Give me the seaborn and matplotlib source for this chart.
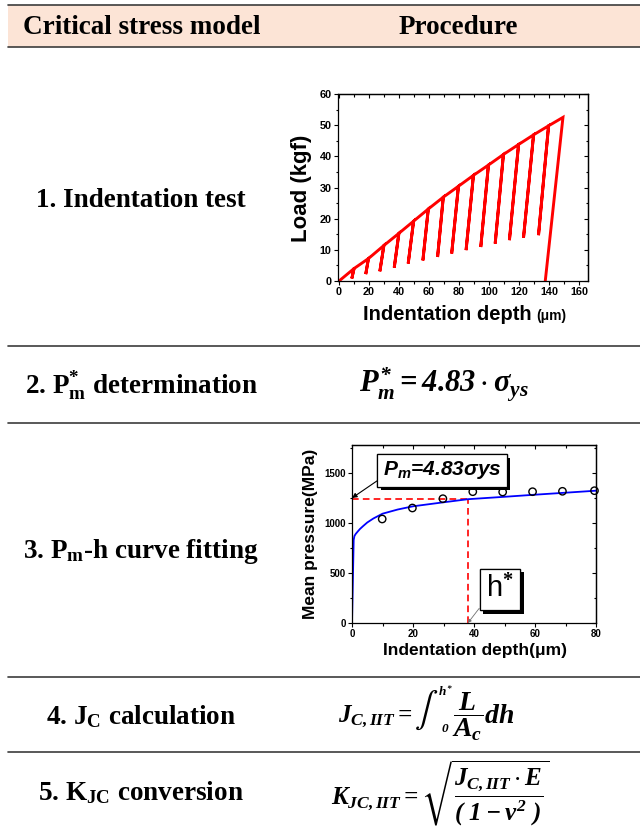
import matplotlib
matplotlib.use("Agg")
import matplotlib.pyplot as plt
import matplotlib.patheffects as pe
from matplotlib.patches import Rectangle
from matplotlib.lines import Line2D
from matplotlib.ticker import MultipleLocator
import pandas as pd
import seaborn as sns

# ---------------- data ----------------
header = ["Critical stress model", "Procedure"]
step_labels = [
    "1. Indentation test",
    r"2. P$_{\mathbf{m}}^{\mathbf{*}}$ determination",
    r"3. P$_{\mathbf{m}}$-h curve fitting",
    r"4. J$_{\mathbf{C}}$ calculation",
    r"5. K$_{\mathbf{JC}}$ conversion",
]
formula_pm = r"$P_m^{*} = 4.83\cdot\sigma_{ys}$"
formula_jc_lhs = r"$J_{C,IIT} =$"
formula_jc_int = r"$\mathtt{\int}$"
formula_jc_upper = r"$h^{*}$"
formula_jc_lower = r"$0$"
formula_jc_rhs = r"$\dfrac{L}{A_c}dh$"
formula_kjc = r"$K_{JC,IIT} = \sqrt{\dfrac{J_{C,IIT}\cdot E}{(\ 1-\nu^2\ )}}$"

# chart 1: multiple loading-unloading indentation test
peak_depth = [10.0, 19.6, 29.9, 39.9, 49.7, 59.5, 69.5, 79.6, 89.6, 99.6, 109.6, 119.7, 129.7, 139.7]
peak_load = [4.0, 7.2, 11.4, 15.3, 19.2, 23.1, 26.9, 30.4, 33.9, 37.2, 40.6, 43.8, 46.9, 49.8]
unload_depth = [8.5, 17.8, 27.2, 36.8, 46.1, 55.9, 65.7, 75.1, 84.7, 94.5, 104.1, 113.6, 123.0, 133.0]
unload_load = [0.8, 2.2, 3.1, 4.3, 5.6, 6.6, 7.7, 8.8, 9.9, 10.9, 12.0, 13.1, 13.9, 14.7]
final_peak = (149.3, 52.5)
final_residual = (137.5, 0.0)

# chart 2: mean pressure vs depth
pm_depth = [9.9, 19.8, 29.8, 39.6, 49.4, 59.2, 69.0, 79.5]
pm_pressure = [1040, 1150, 1243, 1313, 1310, 1313, 1317, 1323]
fit_depth = [0, 0.3, 0.55, 0.8, 1.2, 1.8, 2.6, 3.6, 5, 7, 10, 15, 20, 30, 38, 50, 60, 70, 80]
fit_pressure = [0, 450, 830, 870, 890, 912, 940, 968, 1005, 1045, 1093, 1135, 1167, 1207, 1238, 1262, 1283, 1303, 1323]
h_star = 38.0
pm_star = 1240.0

# ---------------- style ----------------
sns.set_theme(style="ticks")
plt.rcParams.update({
    "font.family": ["Liberation Sans", "DejaVu Sans"],
    "mathtext.fontset": "custom",
    "mathtext.it": "Liberation Serif:italic:bold",
    "mathtext.rm": "Liberation Serif:italic:bold",
    "mathtext.bf": "Liberation Serif:bold",
    "mathtext.sf": "Liberation Sans:italic:bold",
    "mathtext.tt": "STIXGeneral",
    "mathtext.fallback": "stix",
    "axes.linewidth": 0.9,
    "axes.edgecolor": "black",
    "text.color": "black",
    "axes.labelcolor": "black",
    "xtick.color": "black",
    "ytick.color": "black",
})

W, H = 640, 827
def fx(x):
    return x / W
def fy(y):
    return 1 - y / H

fig = plt.figure(figsize=(6.4, 8.27), dpi=100)
fig.patch.set_facecolor("white")

# header band and rules
fig.patches.append(Rectangle((fx(8), fy(47)), 1 - fx(8), 42 / H, transform=fig.transFigure,
                             facecolor="#FCE4D6", edgecolor="none", zorder=0))
for y in [5, 47, 346, 423, 677, 752]:
    fig.add_artist(Line2D([fx(8), 1], [fy(y), fy(y)], color="#3c3c3c", lw=1.2,
                          transform=fig.transFigure))

serif = dict(family=["Liberation Serif", "DejaVu Serif"], weight="bold", color="black")
fig.text(fx(142), fy(27), header[0], ha="center", va="center", fontsize=19.5, **serif)
fig.text(fx(458), fy(27), header[1], ha="center", va="center", fontsize=19.5, **serif)

label_y = [207, 393, 558, 724, 800]
for lab, y in zip(step_labels, label_y):
    fig.text(fx(141), fy(y), lab, ha="center", va="baseline", fontsize=19.5, **serif)

fig.text(fx(444), fy(384), formula_pm, ha="center", va="center", fontsize=22, color="black")
# J_c formula composed of pieces so that the integral sign is tall
fig.text(fx(413), fy(722), formula_jc_lhs, ha="right", va="baseline", fontsize=18, color="black")
fig.text(fx(414), fy(710), formula_jc_int, ha="left", va="center", fontsize=25, color="black")
fig.text(fx(438), fy(692), formula_jc_upper, ha="left", va="center", fontsize=9.5, color="black")
fig.text(fx(441), fy(729), formula_jc_lower, ha="left", va="center", fontsize=9.5, color="black")
fig.text(fx(452), fy(717), formula_jc_rhs, ha="left", va="center", fontsize=20, color="black")
fig.text(fx(440), fy(793), formula_kjc, ha="center", va="center", fontsize=18, color="black")


def style_axes(ax, xmaj, xmin, ymaj, ymin, lsize):
    ax.xaxis.set_major_locator(MultipleLocator(xmaj))
    ax.xaxis.set_minor_locator(MultipleLocator(xmin))
    ax.yaxis.set_major_locator(MultipleLocator(ymaj))
    ax.yaxis.set_minor_locator(MultipleLocator(ymin))
    ax.tick_params(which="both", direction="out", width=0.8, pad=1.5,
                   labelsize=lsize, colors="black")
    ax.tick_params(which="major", length=3)
    ax.tick_params(which="minor", length=1.8)
    for lab in ax.get_xticklabels() + ax.get_yticklabels():
        lab.set_fontweight("bold")
    for sp in ax.spines.values():
        sp.set_visible(True)
        sp.set_color("black")
    sx = ax.secondary_xaxis("top")
    sx.xaxis.set_major_locator(MultipleLocator(xmaj))
    sx.xaxis.set_minor_locator(MultipleLocator(xmin))
    sx.tick_params(which="both", direction="in", labeltop=False, width=0.8)
    sx.tick_params(which="major", length=3)
    sx.tick_params(which="minor", length=1.8)
    sy = ax.secondary_yaxis("right")
    sy.yaxis.set_major_locator(MultipleLocator(ymaj))
    sy.yaxis.set_minor_locator(MultipleLocator(ymin))
    sy.tick_params(which="both", direction="in", labelright=False, width=0.8)
    sy.tick_params(which="major", length=3)
    sy.tick_params(which="minor", length=1.8)
    ax.set_xlabel("")
    ax.set_ylabel("")


# ---------------- chart 1 ----------------
ax1 = fig.add_axes([338 / W, 1 - 281 / H, 250 / W, 187 / H])
path_x, path_y = [0.0], [0.0]
for pd_, pl, ud, ul in zip(peak_depth, peak_load, unload_depth, unload_load):
    path_x += [pd_, ud, pd_]
    path_y += [pl, ul, pl]
path_x += [final_peak[0], final_residual[0]]
path_y += [final_peak[1], final_residual[1]]
df1 = pd.DataFrame({"depth": path_x, "load": path_y})
sns.lineplot(data=df1, x="depth", y="load", sort=False, estimator=None, color="#FF0000",
             lw=2.1, ax=ax1, solid_joinstyle="miter")
ax1.set_xlim(-0.7, 166)
ax1.set_ylim(0, 60)
style_axes(ax1, 20, 10, 10, 5, 7.8)

sansb = dict(family=["Liberation Sans", "DejaVu Sans"], weight="bold", color="black")
fig.text(fx(302), fy(188), "Load (kgf)", rotation=90, ha="center", va="center", fontsize=16, **sansb)
fig.text(fx(363), fy(320), "Indentation depth", ha="left", va="baseline", fontsize=14.5, **sansb)
fig.text(fx(536), fy(320), "(μm)", ha="left", va="baseline", fontsize=10, **sansb)

# ---------------- chart 2 ----------------
ax2 = fig.add_axes([352 / W, 1 - 623 / H, 244 / W, 178 / H])
df_fit = pd.DataFrame({"depth": fit_depth, "pressure": fit_pressure})
df_pts = pd.DataFrame({"depth": pm_depth, "pressure": pm_pressure})
ax2.plot([0, h_star], [pm_star, pm_star], color="#FF0000", lw=1.2, ls=(0, (4, 2.5)), zorder=1)
ax2.plot([h_star, h_star], [0, pm_star], color="#FF0000", lw=1.2, ls=(0, (4, 2.5)), zorder=1)
sns.lineplot(data=df_fit, x="depth", y="pressure", sort=False, estimator=None,
             color="#0000FF", lw=1.3, ax=ax2, zorder=2)
sns.scatterplot(data=df_pts, x="depth", y="pressure", marker="o", s=28,
                facecolor="none", edgecolor="black", linewidth=1.0, ax=ax2, zorder=3, clip_on=False)
ax2.set_xlim(0, 80)
ax2.set_ylim(0, 1780)
style_axes(ax2, 20, 10, 500, 250, 7)

fig.text(fx(310), fy(534), "Mean pressure(MPa)", rotation=90, ha="center", va="center", fontsize=12.5, **sansb)
fig.text(fx(475), fy(650), "Indentation depth(μm)", ha="center", va="center", fontsize=12.5, **sansb)

ann1 = ax2.annotate(r"$\mathsf{P_m}$=4.83σys", xy=(0, 1250), xytext=(29.5, 1525),
                    textcoords="data", ha="center", va="center", fontsize=15, color="black",
                    family=["Liberation Sans", "DejaVu Sans"], weight="bold", style="italic",
                    bbox=dict(boxstyle="square,pad=0.25", fc="white", ec="black", lw=0.9),
                    arrowprops=dict(arrowstyle="-|>", color="black", lw=0.8, mutation_scale=7,
                                    shrinkA=0, shrinkB=0, relpos=(0.0, 0.2)),
                    zorder=5)
ann1.get_bbox_patch().set_path_effects([
    pe.withSimplePatchShadow(offset=(2.5, -2.5), shadow_rgbFace="black", alpha=1.0), pe.Normal()])

ann2 = ax2.annotate(r"h$^{\mathbf{*}}$", xy=(h_star, 0), xytext=(48.5, 335),
                    textcoords="data", ha="center", va="center", fontsize=21, color="black",
                    family=["Liberation Sans", "DejaVu Sans"],
                    bbox=dict(boxstyle="square,pad=0.22", fc="white", ec="black", lw=0.9),
                    arrowprops=dict(arrowstyle="-|>", color="#707070", lw=0.6, mutation_scale=5,
                                    shrinkA=0, shrinkB=0, relpos=(0.0, 0.15)),
                    zorder=5)
ann2.get_bbox_patch().set_path_effects([
    pe.withSimplePatchShadow(offset=(2.5, -2.5), shadow_rgbFace="black", alpha=1.0), pe.Normal()])

fig.savefig("out.png", dpi=100, facecolor="white")
